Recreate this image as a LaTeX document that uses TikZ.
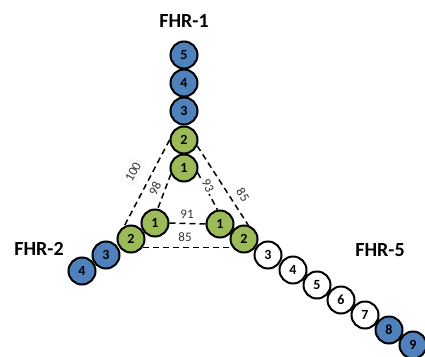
\documentclass[tikz,border=0pt]{standalone}
\usepackage{fontspec}
\setmainfont{Carlito}
\definecolor{dblue}{HTML}{4F81BD}
\definecolor{dgreen}{HTML}{9BBB59}
\tikzset{
  dom/.style={circle, draw=black, line width=2pt, minimum size=27pt, inner sep=0pt, font=\fontsize{14}{14}\selectfont\bfseries},
  bdom/.style={dom, fill=dblue},
  gdom/.style={dom, fill=dgreen},
  wdom/.style={dom, fill=white},
  dline/.style={line width=1.5pt, dash pattern=on 6pt off 4pt},
  elabel/.style={font=\fontsize{13}{13}\selectfont, text=black!80, inner sep=1pt, fill=white},
  title/.style={font=\fontsize{20}{20}\selectfont\bfseries}
}
\begin{document}
\begin{tikzpicture}[x=1pt,y=-1pt]
\useasboundingbox (0,0) rectangle (425,356);
\clip (0,0) rectangle (425,356);
% FHR-1
\node[bdom] (a5) at (184,55) {5};
\node[bdom] (a4) at (184,83) {4};
\node[bdom] (a3) at (184,111) {3};
\node[gdom] (a2) at (184,140) {2};
\node[gdom] (a1) at (184,168) {1};
% FHR-2
\node[gdom] (b1) at (155,223) {1};
\node[gdom] (b2) at (131,239) {2};
\node[bdom] (b3) at (106,255) {3};
\node[bdom] (b4) at (82,271) {4};
% FHR-5
\node[gdom] (c1) at (220,224) {1};
\node[gdom] (c2) at (244,239) {2};
\node[wdom] (c3) at (268,255) {3};
\node[wdom] (c4) at (293,270) {4};
\node[wdom] (c5) at (317,285) {5};
\node[wdom] (c6) at (341,300) {6};
\node[wdom] (c7) at (365,315) {7};
\node[bdom] (c8) at (389,330) {8};
\node[bdom] (c9) at (413,345) {9};
% titles
\node[title] (t1) at (184,21) {FHR-1};
\node[title] (t2) at (39,249) {FHR-2};
\node[title] (t5) at (380,250) {FHR-5};
% dashed connectors
\draw[dline] (a2.west) -- (b2.118);
\draw[dline] (a2.-24) -- (c2.73);
\draw[dline] (a1.205) -- (b1.79);
\draw[dline] (a1.-19) -- (c1.100);
\draw[dline] (b1.east) -- (c1.west);
\draw[dline] (b2.-35) -- (c2.215);
% labels
\node[elabel, rotate=61, draw=black!8, inner sep=2.5pt] (l100) at (133,172) {100};
\node[elabel, rotate=64] (l98) at (155,189) {98};
\node[elabel, rotate=-65] (l93) at (208,186) {93};
\node[elabel, rotate=-57] (l85a) at (243,195) {85};
\node[elabel, fill=none] (l91) at (187,214) {91};
\node[elabel, fill=none] (l85b) at (185,237) {85};
\end{tikzpicture}
\end{document}
